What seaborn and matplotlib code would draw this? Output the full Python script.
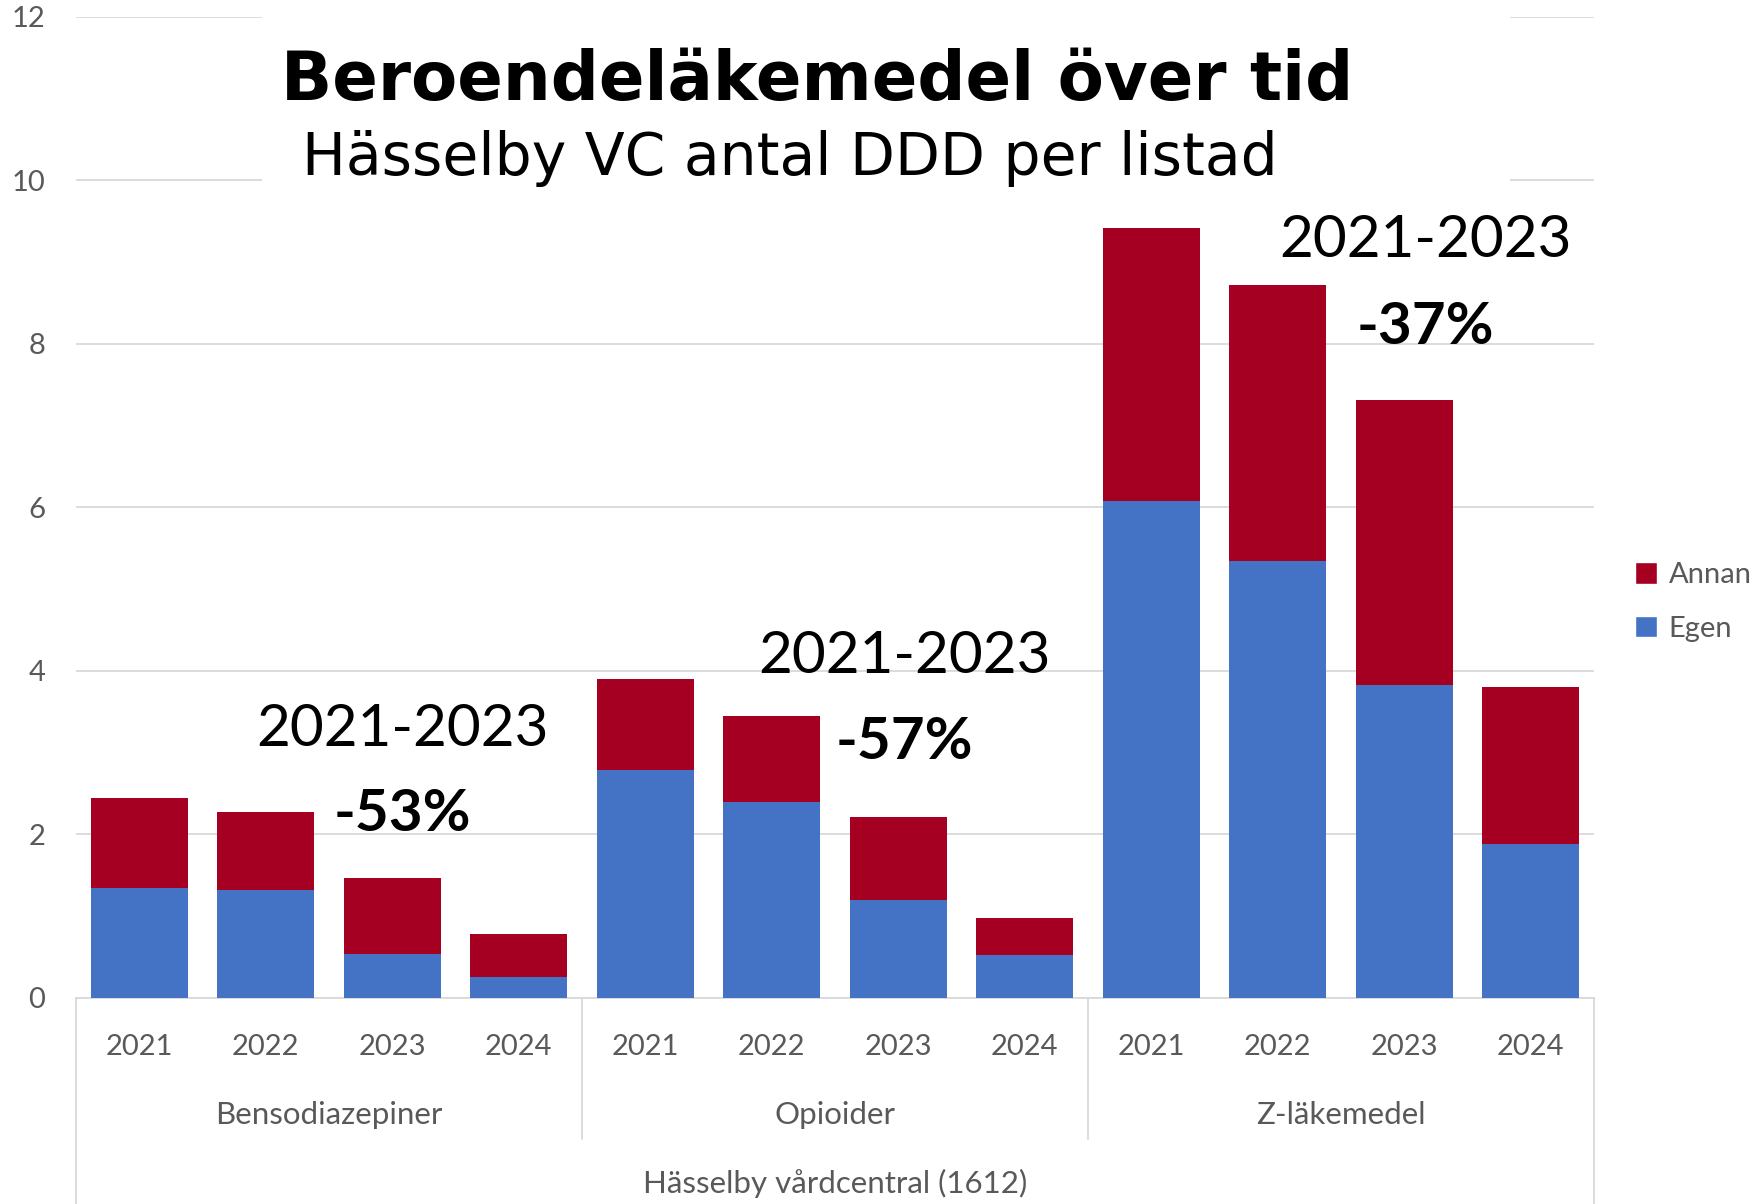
import pandas as pd
import matplotlib.pyplot as plt
import seaborn as sns
from matplotlib.patches import Patch, Rectangle

# values (DDD per listed patient)
drugs = ["Bensodiazepiner", "Opioider", "Z-läkemedel"]
years = ["2021", "2022", "2023", "2024"]
egen = {
    "Bensodiazepiner": [1.35, 1.32, 0.54, 0.26],
    "Opioider": [2.79, 2.40, 1.20, 0.52],
    "Z-läkemedel": [6.08, 5.34, 3.83, 1.88],
}
annan = {
    "Bensodiazepiner": [1.10, 0.95, 0.93, 0.52],
    "Opioider": [1.11, 1.05, 1.01, 0.46],
    "Z-läkemedel": [3.34, 3.38, 3.48, 1.92],
}
change_labels = ["-53%", "-57%", "-37%"]

RED = "#A50021"
BLUE = "#4472C4"
GRID = "#D9D9D9"
TXT = "#595959"
CAL = ["Lato", "DejaVu Sans"]

rows = []
for d in drugs:
    for i, y in enumerate(years):
        rows.append({"key": f"{d} {y}", "drug": d, "year": y,
                     "egen": egen[d][i], "total": egen[d][i] + annan[d][i]})
df = pd.DataFrame(rows)

sns.set_style("white")
fig = plt.figure(figsize=(17.6, 12.04), dpi=100)
ax = fig.add_axes([0.0432, 0.1711, 0.8625, 0.8148])

# stacked bars: full height in red, own part in blue on top
sns.barplot(data=df, x="key", y="total", color=RED, saturation=1, width=0.77,
            errorbar=None, ax=ax, zorder=2, linewidth=0)
sns.barplot(data=df, x="key", y="egen", color=BLUE, saturation=1, width=0.77,
            errorbar=None, ax=ax, zorder=3, linewidth=0)

ax.set_ylim(0, 12)
ax.set_xlim(-0.5, len(df) - 0.5)
ax.set_yticks(range(0, 13, 2))
ax.set_axisbelow(True)
ax.yaxis.grid(True, color=GRID, lw=1.3)
for s in ["top", "right", "left"]:
    ax.spines[s].set_visible(False)
ax.spines["bottom"].set_color(GRID)
ax.spines["bottom"].set_linewidth(1.3)
ax.set_xlabel("")
ax.set_ylabel("")
ax.set_xticks(range(len(df)))
ax.set_xticklabels(df["year"], family=CAL, fontsize=21, color=TXT)
ax.tick_params(axis="x", length=0, pad=26)
ax.tick_params(axis="y", length=0, pad=22, labelsize=21, labelcolor=TXT)
for lab in ax.get_yticklabels():
    lab.set_family(CAL)

# multi-level category axis
tr = ax.get_xaxis_transform()
for k, d in enumerate(drugs):
    ax.text(k * 4 + 1.5, -0.119, d, transform=tr, ha="center", va="center",
            family=CAL, fontsize=22.5, color=TXT)
ax.text(5.5, -0.189, "Hässelby vårdcentral (1612)", transform=tr, ha="center",
        va="center", family=CAL, fontsize=22.5, color=TXT)
for xs in [3.5, 7.5]:
    ax.plot([xs, xs], [0, -0.144], transform=tr, color=GRID, lw=1.3, clip_on=False)
for xs in [-0.5, 11.5]:
    ax.plot([xs, xs], [0, -0.22], transform=tr, color=GRID, lw=1.3, clip_on=False)

# change annotations
ann_pos = [(2.08, 3.28, 2.08, 2.25), (6.05, 4.18, 6.05, 3.12), (10.17, 9.26, 10.17, 8.2)]
for (x1, y1, x2, y2), lbl in zip(ann_pos, change_labels):
    ax.text(x1, y1, "2021-2023", ha="center", va="center", family=CAL,
            fontsize=42, color="black", zorder=5)
    ax.text(x2, y2, lbl, ha="center", va="center", family=CAL,
            fontsize=42, fontweight="bold", color="black", zorder=5)

# title box hides the top gridlines
ax.add_patch(Rectangle((0.149, 0.837), 0.709, 0.17, transform=fig.transFigure,
                       facecolor="white", edgecolor="none", zorder=1.5, clip_on=False))
fig.text(0.4645, 0.933, "Beroendeläkemedel över tid", ha="center", va="center",
         family="DejaVu Sans", fontsize=48.5, fontweight="bold", color="black")
fig.text(0.4485, 0.868, "Hässelby VC antal DDD per listad", ha="center",
         va="center", family="DejaVu Sans", fontsize=42, color="black")

handles = [Patch(facecolor=RED, label="Annan"), Patch(facecolor=BLUE, label="Egen")]
fig.legend(handles=handles, loc="center left", bbox_to_anchor=(0.914, 0.5),
           frameon=False, prop={"family": CAL, "size": 21}, labelcolor=TXT,
           handlelength=0.75, handleheight=0.75, handletextpad=0.4, labelspacing=0.95)

fig.savefig("out.png", dpi=100, facecolor="white")
